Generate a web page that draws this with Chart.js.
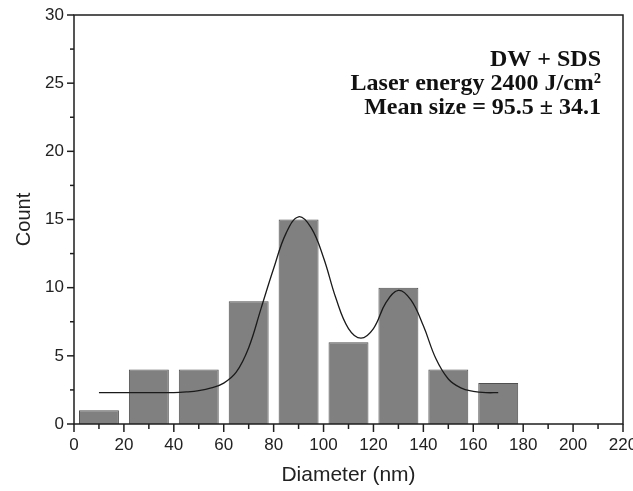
<!DOCTYPE html>
<html>
<head>
<meta charset="utf-8">
<script src="https://cdn.jsdelivr.net/npm/chart.js@4"></script>
<style>
  html, body { margin: 0; padding: 0; background: #fff; }
  #wrap { width: 633px; height: 491px; }
</style>
</head>
<body>
<div id="wrap"><canvas id="histChart" width="633" height="491"></canvas></div>
<script>
// histogram bins (centres, nm) and counts
const binCentres = [10, 30, 50, 70, 90, 110, 130, 150, 170];
const counts = [1, 4, 4, 9, 15, 6, 10, 4, 3];

// fitted curve
const fitX = [10, 20, 30, 40, 45, 50, 55, 60, 65, 70, 75, 80, 85, 90, 95, 100, 105, 110, 115, 120, 125, 130, 135, 140, 145, 150, 155, 160, 165, 170];
const fitY = [2.3, 2.3, 2.3, 2.3, 2.35, 2.45, 2.65, 3.0, 3.8, 5.6, 8.5, 11.4, 14.0, 15.2, 14.4, 12.2, 9.2, 7.0, 6.3, 7.0, 8.9, 9.8, 9.1, 7.2, 4.8, 3.3, 2.65, 2.4, 2.3, 2.3];

// info text lines
const infoLines = ['DW + SDS', 'Laser energy 2400 J/cm\u00b2', 'Mean size = 95.5 \u00b1 34.1'];

const axisColor = '#1e1e1e';
const sansFont = "'Liberation Sans', Arial, sans-serif";

//draws the frame, major/minor ticks and the info text
const framePlugin = {
    id: 'frame',
    afterDatasetsDraw(chart) {
        const ctx = chart.ctx;
        const area = chart.chartArea;
        const xs = chart.scales.x;
        const ys = chart.scales.y;
        ctx.save();
        ctx.strokeStyle = axisColor;
        ctx.lineWidth = 1.5;
        ctx.strokeRect(area.left, area.top, area.right - area.left, area.bottom - area.top);

        //y ticks, outward on the left
        for (let v = 0; v <= 30; v += 2.5) {
            const y = ys.getPixelForValue(v);
            const len = v % 5 === 0 ? 7 : 4;
            ctx.beginPath();
            ctx.moveTo(area.left, y);
            ctx.lineTo(area.left - len, y);
            ctx.stroke();
        }
        //x ticks, outward at the bottom
        for (let v = 0; v <= 220; v += 10) {
            const x = xs.getPixelForValue(v);
            const len = v % 20 === 0 ? 8 : 5;
            ctx.beginPath();
            ctx.moveTo(x, area.bottom);
            ctx.lineTo(x, area.bottom + len);
            ctx.stroke();
        }

        //info text, right aligned
        ctx.fillStyle = '#111';
        ctx.font = "bold 24px 'Liberation Serif', 'Times New Roman', serif";
        ctx.textAlign = 'right';
        ctx.textBaseline = 'alphabetic';
        infoLines.forEach((line, i) => {
            ctx.fillText(line, 601, 66 + i * 24);
        });
        ctx.restore();
    }
};

const ctx = document.getElementById('histChart').getContext('2d');
new Chart(ctx, {
    type: 'bar',
    data: {
        datasets: [
            {
                type: 'line',
                data: fitX.map((x, i) => ({ x: x, y: fitY[i] })),
                borderColor: '#1a1a1a',
                borderWidth: 1.3,
                pointRadius: 0,
                tension: 0.4,
                fill: false
            },
            {
                type: 'bar',
                data: binCentres.map((x, i) => ({ x: x, y: counts[i] })),
                backgroundColor: '#808080',
                borderColor: '#505050',
                borderWidth: 1,
                barPercentage: 0.8,
                categoryPercentage: 1.0
            }
        ]
    },
    options: {
        responsive: false,
        animation: false,
        events: [],
        layout: { padding: { top: 15, right: 10, left: 0, bottom: 0 } },
        plugins: {
            legend: { display: false },
            tooltip: { enabled: false }
        },
        scales: {
            x: {
                type: 'linear',
                min: 0,
                max: 220,
                offset: false,
                grid: { display: false, drawTicks: false },
                border: { display: false },
                ticks: {
                    stepSize: 20,
                    maxRotation: 0,
                    autoSkip: false,
                    padding: 11,
                    color: '#222',
                    font: { family: sansFont, size: 17 }
                },
                title: {
                    display: true,
                    text: 'Diameter (nm)',
                    color: '#222',
                    font: { family: sansFont, size: 21 },
                    padding: { top: 0, bottom: 3 }
                },
                afterFit(scale) {
                    scale.height = 67;
                    scale.paddingLeft = 0;
                    scale.paddingRight = 0;
                }
            },
            y: {
                min: 0,
                max: 30,
                grid: { display: false, drawTicks: false },
                border: { display: false },
                ticks: {
                    stepSize: 5,
                    padding: 10,
                    color: '#222',
                    font: { family: sansFont, size: 17 }
                },
                title: {
                    display: true,
                    text: 'Count',
                    color: '#222',
                    font: { family: sansFont, size: 20 },
                    padding: { top: 12, bottom: 0 }
                },
                afterFit(scale) {
                    scale.width = 74;
                    scale.paddingTop = 0;
                    scale.paddingBottom = 0;
                }
            }
        }
    },
    plugins: [framePlugin]
});
</script>
</body>
</html>
